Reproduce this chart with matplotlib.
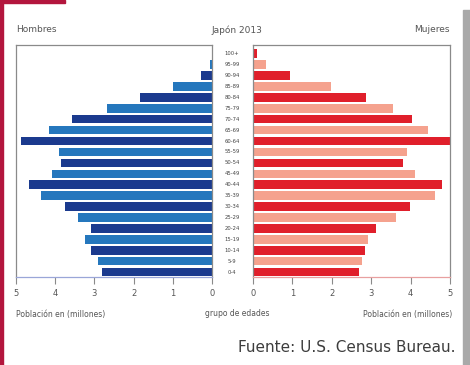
import numpy as np
import matplotlib
matplotlib.use("Agg")
import matplotlib.pyplot as plt
from matplotlib.patches import Rectangle
from matplotlib.transforms import blended_transform_factory

# grupos de edades, de abajo hacia arriba
age_groups = ["0-4", "5-9", "10-14", "15-19", "20-24", "25-29", "30-34",
              "35-39", "40-44", "45-49", "50-54", "55-59", "60-64", "65-69",
              "70-74", "75-79", "80-84", "85-89", "90-94", "95-99", "100+"]

# poblacion en millones
hombres = [2.80, 2.90, 3.09, 3.24, 3.09, 3.43, 3.75, 4.36, 4.66, 4.09,
           3.84, 3.90, 4.87, 4.16, 3.56, 2.69, 1.84, 0.99, 0.29, 0.05, 0.01]
mujeres = [2.68, 2.76, 2.85, 2.93, 3.13, 3.62, 3.98, 4.62, 4.80, 4.11,
           3.81, 3.92, 5.00, 4.45, 4.04, 3.55, 2.87, 1.98, 0.94, 0.32, 0.09]

x_ticks = [0, 1, 2, 3, 4, 5]

blue_dark = "#1b3a8e"
blue_mid = "#2577bd"
red_dark = "#e01f2b"
red_light = "#f5a28e"
text_gray = "#555555"
frame_gray = "#8a8a8a"

fig = plt.figure(figsize=(4.7, 3.65), dpi=100)
fig.patch.set_facecolor("white")

W, H = 470.0, 365.0
axL = fig.add_axes([16 / W, 1 - 277 / H, 196 / W, 232 / H])
axR = fig.add_axes([253 / W, 1 - 277 / H, 197 / W, 232 / H])

y = np.arange(len(age_groups))
colL = [blue_dark if i % 2 == 0 else blue_mid for i in y]
colR = [red_dark if i % 2 == 0 else red_light for i in y]

axL.barh(y, hombres, height=0.78, color=colL)
axR.barh(y, mujeres, height=0.78, color=colR)

for ax in (axL, axR):
    ax.set_xlim(0, 5)
    ax.set_ylim(-0.45, len(age_groups) - 0.2)
    ax.set_yticks([])
    ax.set_xticks(x_ticks)
    ax.set_xticklabels([str(t) for t in x_ticks])
    ax.tick_params(axis="x", direction="out", length=5, width=0.8,
                   colors=frame_gray, labelcolor=text_gray, labelsize=6, pad=4)
    for s in ax.spines.values():
        s.set_color(frame_gray)
        s.set_linewidth(0.9)
axL.invert_xaxis()
axL.spines["bottom"].set_color("#9aa6d8")
axR.spines["bottom"].set_color("#e8a0a0")

# etiquetas de edades entre los dos ejes
tr = blended_transform_factory(fig.transFigure, axL.transData)
for i, lab in enumerate(age_groups):
    fig.text(232 / W, i, lab, transform=tr, ha="center", va="center",
             fontsize=3.8, color="#444444")

# titulos
fig.text(16 / W, 1 - 30 / H, "Hombres", ha="left", va="center",
         fontsize=6.5, color=text_gray)
fig.text(237 / W, 1 - 30 / H, "Japón 2013", ha="center", va="center",
         fontsize=6.5, color=text_gray)
fig.text(450 / W, 1 - 30 / H, "Mujeres", ha="right", va="center",
         fontsize=6.5, color=text_gray)

fig.text(16 / W, 1 - 314 / H, "Población en (millones)", ha="left",
         va="center", fontsize=5.5, color=text_gray)
fig.text(237 / W, 1 - 314 / H, "grupo de edades", ha="center",
         va="center", fontsize=5.5, color=text_gray)
fig.text(452 / W, 1 - 314 / H, "Población en (millones)", ha="right",
         va="center", fontsize=5.5, color=text_gray)

fig.text(455 / W, 1 - 348 / H, "Fuente: U.S. Census Bureau.", ha="right",
         va="center", fontsize=11, color="#3d3d3d")

# bordes decorativos
fig.patches.append(Rectangle((0, 0), 3 / W, 1, transform=fig.transFigure,
                             color="#b3163d", zorder=5))
fig.patches.append(Rectangle((0, 1 - 3 / H), 65 / W, 3 / H,
                             transform=fig.transFigure, color="#b3163d",
                             zorder=5))
fig.patches.append(Rectangle((463 / W, 0), 7 / W, 1 - 10 / H,
                             transform=fig.transFigure, color="#a9a9a9",
                             zorder=5))

fig.savefig("out.png", dpi=100)
